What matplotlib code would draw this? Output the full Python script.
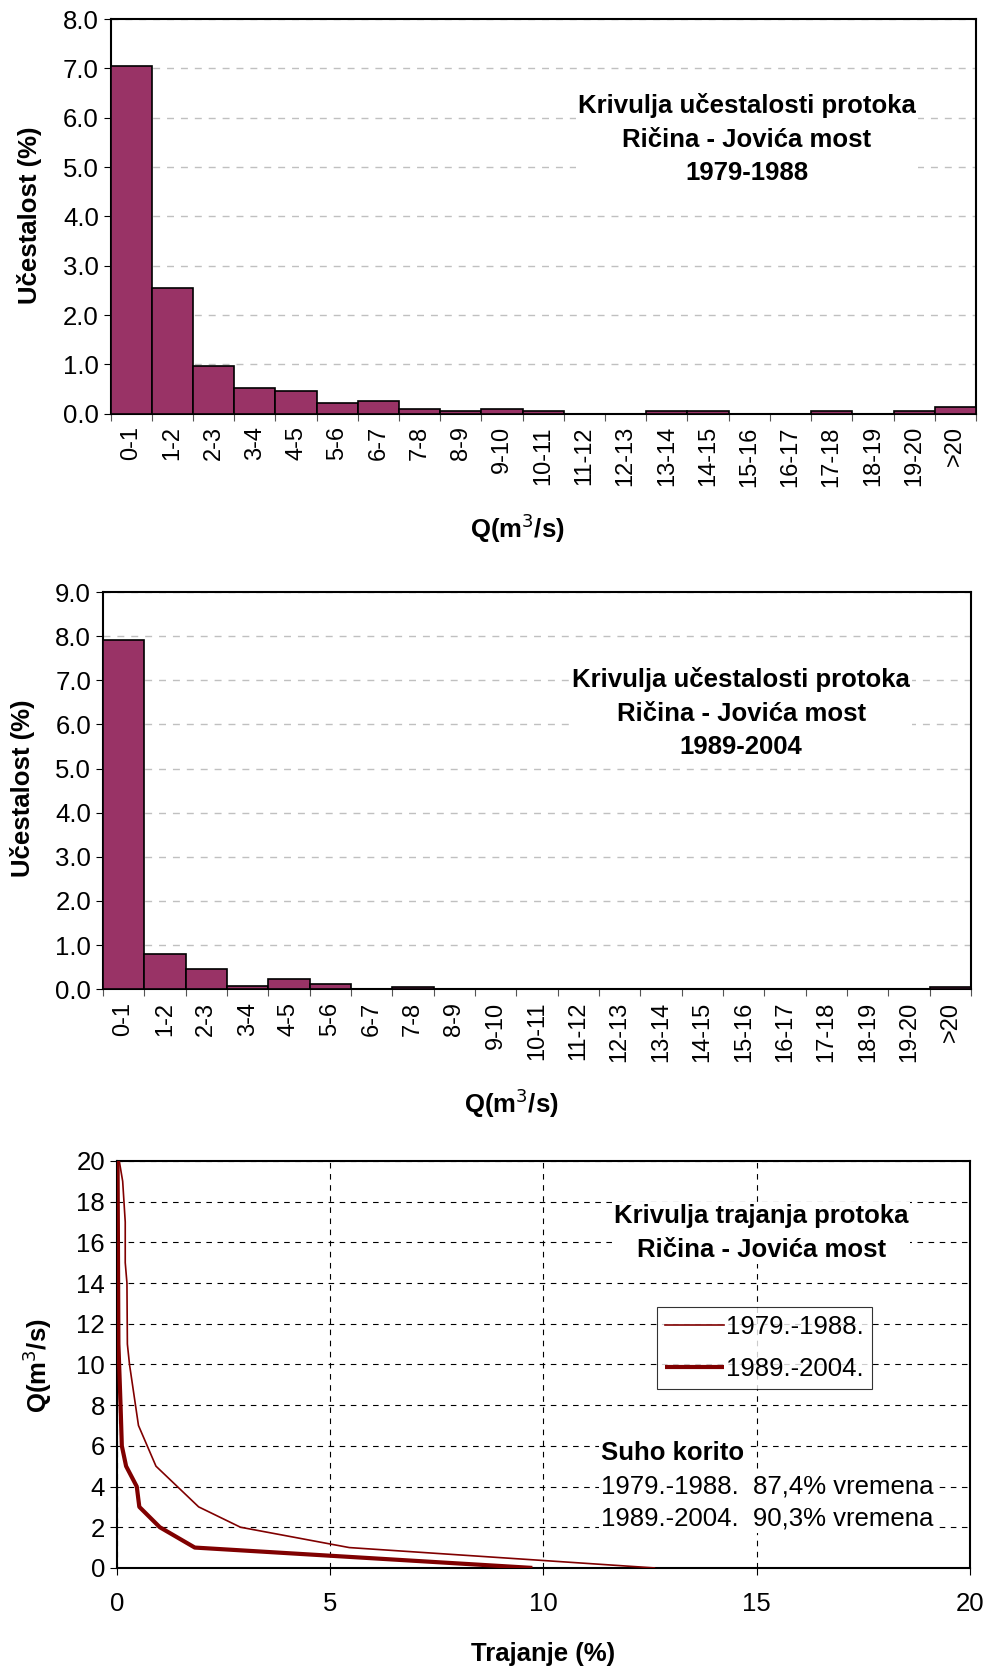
import numpy as np
import matplotlib.pyplot as plt

plt.rcParams['font.family'] = ['Liberation Sans', 'DejaVu Sans']

# klase protoka (m3/s)
klase = ["0-1", "1-2", "2-3", "3-4", "4-5", "5-6", "6-7", "7-8", "8-9", "9-10",
         "10-11", "11-12", "12-13", "13-14", "14-15", "15-16", "16-17", "17-18",
         "18-19", "19-20", ">20"]

# ucestalost (%) po klasama
uc_1979_1988 = [7.05, 2.55, 0.97, 0.53, 0.45, 0.21, 0.25, 0.09, 0.05, 0.09,
                0.05, 0.0, 0.0, 0.05, 0.05, 0.0, 0.0, 0.05, 0.0, 0.05, 0.13]
uc_1989_2004 = [7.92, 0.80, 0.45, 0.08, 0.22, 0.11, 0.0, 0.04, 0.0, 0.0,
                0.0, 0.0, 0.0, 0.0, 0.0, 0.0, 0.0, 0.0, 0.0, 0.0, 0.04]

# krivulje trajanja: trajanje (%) i protok Q (m3/s)
traj_1979 = [12.6, 5.45, 2.9, 1.92, 0.92, 0.51, 0.37, 0.30, 0.25, 0.24, 0.20, 0.20, 0.14, 0.06]
q_1979 = [0, 1, 2, 3, 5, 7, 9, 10, 11, 14, 15, 17, 19, 20]
traj_1989 = [9.74, 1.83, 1.01, 0.53, 0.47, 0.22, 0.12, 0.09, 0.04, 0.02]
q_1989 = [0, 1, 2, 3, 4, 5, 6, 8, 11, 20]

bar_color = "#993366"
line_color = "#800000"
tbox = dict(facecolor="white", edgecolor="none", pad=1.5)
FS = 18.5

fig = plt.figure(figsize=(9.89, 16.68), dpi=100)


def label_pos(ax, xl, yl):
    # polozaj naziva osi u koordinatama osi
    ax.xaxis.set_label_coords(*xl)
    ax.xaxis.label.set_va("center")
    ax.yaxis.set_label_coords(*yl)
    ax.yaxis.label.set_va("center")


def histogram(ax, vals, ymax, naslov):
    x = np.arange(len(klase))
    ax.bar(x, vals, width=1.0, color=bar_color, edgecolor="black", linewidth=1.2, zorder=3)
    ax.set_xlim(-0.5, len(klase) - 0.5)
    ax.set_ylim(0, ymax)
    ax.set_yticks(np.arange(0, ymax + 0.01, 1.0))
    ax.set_yticklabels([f"{v:.1f}" for v in np.arange(0, ymax + 0.01, 1.0)])
    ax.set_xticks(x)
    ax.set_xticklabels(klase, rotation=90)
    ax.set_xticks(np.arange(-0.5, len(klase)), minor=True)
    ax.tick_params(axis="x", which="major", length=0, labelsize=17, pad=9)
    ax.tick_params(axis="x", which="minor", length=5, width=0.8, color="#555555")
    ax.tick_params(axis="y", length=5, labelsize=FS, width=0.8)
    ax.yaxis.grid(True, color="#c0c0c0", linestyle=(0, (5, 5)), linewidth=1.0, zorder=0)
    for s in ax.spines.values():
        s.set_linewidth(1.5)
    ax.set_ylabel("Učestalost (%)", fontsize=FS, fontweight="bold")
    ax.set_xlabel("Q(m$^3$/s)", fontsize=FS, fontweight="bold")
    ax.text(0.735, 0.695, naslov, transform=ax.transAxes, ha="center", va="center",
            fontsize=FS, fontweight="bold", linespacing=1.5, bbox=tbox, zorder=4)


ax1 = fig.add_axes([0.1118, 0.752, 0.875, 0.2366])
histogram(ax1, uc_1979_1988, 8.0,
          "Krivulja učestalosti protoka\nRičina - Jovića most\n1979-1988")
label_pos(ax1, (0.47, -0.29), (-0.094, 0.503))

ax2 = fig.add_axes([0.104, 0.407, 0.878, 0.238])
histogram(ax2, uc_1989_2004, 9.0,
          "Krivulja učestalosti protoka\nRičina - Jovića most\n1989-2004")
label_pos(ax2, (0.47, -0.287), (-0.092, 0.505))

ax3 = fig.add_axes([0.118, 0.060, 0.863, 0.244])
ax3.plot(traj_1979, q_1979, color=line_color, linewidth=1.2, label="1979.-1988.", zorder=3)
ax3.plot(traj_1989, q_1989, color=line_color, linewidth=3.0, label="1989.-2004.", zorder=3,
         solid_capstyle="butt")
ax3.set_xlim(0, 20)
ax3.set_ylim(0, 20)
ax3.set_xticks([0, 5, 10, 15, 20])
ax3.set_yticks(np.arange(0, 21, 2))
ax3.tick_params(length=5, labelsize=FS, width=0.8)
ax3.tick_params(axis="x", pad=12)
ax3.grid(True, color="black", linestyle=(0, (5, 5)), linewidth=0.8, zorder=0)
for s in ax3.spines.values():
    s.set_linewidth(1.5)
ax3.set_ylabel("Q(m$^3$/s)", fontsize=FS, fontweight="bold")
ax3.set_xlabel("Trajanje (%)", fontsize=FS, fontweight="bold")
label_pos(ax3, (0.5, -0.211), (-0.0934, 0.497))
ax3.text(15.1, 16.45, "Krivulja trajanja protoka\nRičina - Jovića most", ha="center",
         va="center", fontsize=FS, fontweight="bold", linespacing=1.5, bbox=tbox, zorder=4)
leg = ax3.legend(loc="upper left", bbox_to_anchor=(0.633, 0.64), fontsize=FS,
                 frameon=True, fancybox=False, edgecolor="black", handlelength=2.3,
                 handletextpad=0.1, borderpad=0.3, labelspacing=0.7, borderaxespad=0)
leg.get_frame().set_linewidth(0.8)
leg.set_zorder(5)
ax3.text(11.35, 5.65, "Suho korito", fontsize=FS, fontweight="bold", va="center",
         bbox=tbox, zorder=4)
ax3.text(11.35, 3.21, "1979.-1988.  87,4% vremena\n1989.-2004.  90,3% vremena",
         fontsize=FS, va="center", linespacing=1.45, bbox=tbox, zorder=4)

fig.savefig("out.png", dpi=100)
